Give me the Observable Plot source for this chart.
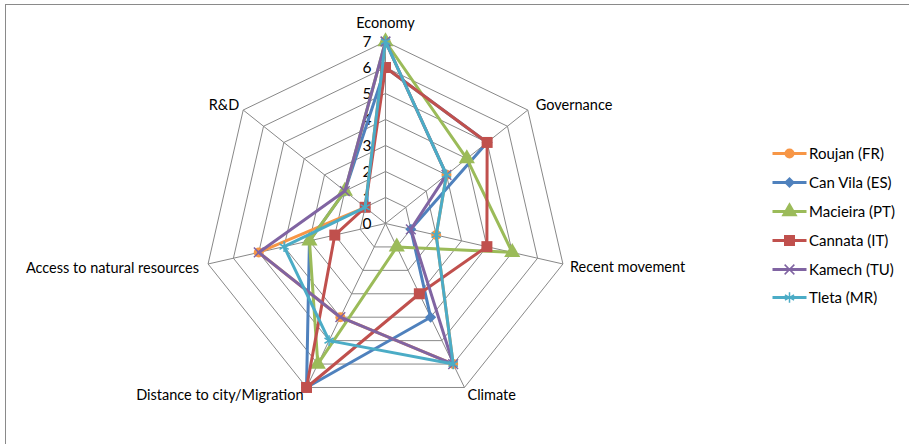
<!DOCTYPE html>
<html>
<head>
<meta charset="utf-8">
<script src="https://cdn.jsdelivr.net/npm/d3@7"></script>
<script src="https://cdn.jsdelivr.net/npm/@observablehq/plot@0.6"></script>
<style>
  body { margin: 0; background: #fff; }
  #wrap { position: relative; width: 909px; height: 444px; overflow: hidden; font-family: Lato, "Noto Sans", sans-serif; }
  #frame { position: absolute; left: 5px; top: 4px; width: 1000px; height: 1000px; border-left: 1px solid #8a8a8a; border-top: 1px solid #8a8a8a; }
  #legend { position: absolute; left: 771px; top: 139px; font-size: 15px; color: #000; }
  .row { display: flex; align-items: center; height: 28.8px; }
  .row svg { margin-right: 2px; }
</style>
</head>
<body>
<div id="wrap"><div id="frame"></div><div id="chart"></div><div id="legend"></div></div>
<script>
// ---- data ----
const axes = ["Economy", "Governance", "Recent movement", "Climate", "Distance to city/Migration", "Access to natural resources", "R&D"];
const seriesNames = ["Roujan (FR)", "Can Vila (ES)", "Macieira (PT)", "Cannata (IT)", "Kamech (TU)", "Tleta (MR)"];
const roujan   = [7, 3, 2, 6, 4, 5, 1];
const canVila  = [6, 5, 1, 4, 7, 3, 2];
const macieira = [7, 4, 5, 1, 6, 3, 2];
const cannata  = [6, 5, 4, 3, 7, 2, 1];
const kamech   = [7, 3, 1, 6, 4, 5, 2];
const tleta    = [7, 3, 2, 6, 5, 4, 1];
const tickLabels = [0, 1, 2, 3, 4, 5, 6, 7];

// ---- styles ----
const colors = ["#F79646", "#4F81BD", "#9BBB59", "#C0504D", "#8064A2", "#4BACC6"];
const symbols = ["circle", "diamond2", "triangle", "square", "times", "asterisk"];
const symbolR = [5, 5, 6, 6.2, 4.5, 5];
const labelStyle = [
  {anchor: "middle", dx: 0, dy: -18},
  {anchor: "start", dx: 8, dy: -5},
  {anchor: "start", dx: 7, dy: 3},
  {anchor: "start", dx: 3, dy: 8},
  {anchor: "end", dx: -3, dy: 8},
  {anchor: "end", dx: -9, dy: 4},
  {anchor: "end", dx: -4, dy: -5}
];

const values = [roujan, canVila, macieira, cannata, kamech, tleta];
const maxV = 7;
const n = axes.length;
const ang = i => i * 2 * Math.PI / n;
const px = (r, i) => r * Math.sin(ang(i));
const py = (r, i) => r * Math.cos(ang(i));

// grid rings
const rings = [];
for (let lv = 1; lv <= maxV; lv++) for (let i = 0; i <= n; i++) rings.push({lv, x: px(lv, i % n), y: py(lv, i % n)});
const spokes = axes.map((a, i) => ({x1: 0, y1: 0, x2: px(maxV, i), y2: py(maxV, i)}));

const pts = [];
const lines = [];
values.forEach((vals, s) => {
  vals.forEach((v, i) => pts.push({s, x: px(v, i), y: py(v, i)}));
  for (let i = 0; i <= n; i++) lines.push({s, x: px(vals[i % n], i % n), y: py(vals[i % n], i % n)});
});

// scale geometry
const W = 909, H = 444, cx = 385, cy = 223, k = 26;

const marks = [
  Plot.line(rings, {x: "x", y: "y", z: "lv", stroke: "#888", strokeWidth: 1}),
  Plot.link(spokes, {x1: "x1", y1: "y1", x2: "x2", y2: "y2", stroke: "#888", strokeWidth: 1}),
  Plot.text(tickLabels, {x: 0, y: d => d, text: d => String(d), textAnchor: "end", dx: -14, dy: 1, fontSize: 15.5, fill: "#000"})
];
values.forEach((vals, s) => {
  marks.push(Plot.line(lines.filter(d => d.s === s), {x: "x", y: "y", stroke: colors[s], strokeWidth: 3, strokeLinejoin: "round"}));
  const isStroke = symbols[s] === "times" || symbols[s] === "asterisk";
  marks.push(Plot.dot(pts.filter(d => d.s === s), {x: "x", y: "y", symbol: symbols[s], r: symbolR[s],
    fill: isStroke ? "none" : colors[s], stroke: colors[s], strokeWidth: isStroke ? 1.5 : 0}));
});
axes.forEach((a, i) => {
  const st = labelStyle[i];
  marks.push(Plot.text([a], {x: px(maxV, i), y: py(maxV, i), text: d => d, textAnchor: st.anchor, dx: st.dx, dy: st.dy, fontSize: 14.5, fill: "#000"}));
});

const chart = Plot.plot({
  width: W, height: H,
  margin: 0,
  style: {background: "transparent", fontFamily: "Lato, 'Noto Sans', sans-serif", overflow: "visible"},
  x: {domain: [-cx / k, (W - cx) / k], range: [0, W], axis: null},
  y: {domain: [-(H - cy) / k, cy / k], range: [H, 0], axis: null},
  symbol: {type: "identity"},
  marks
});
document.getElementById("chart").appendChild(chart);

// legend
const leg = document.getElementById("legend");
seriesNames.forEach((name, s) => {
  const row = document.createElement("div");
  row.className = "row";
  const isStroke = symbols[s] === "times" || symbols[s] === "asterisk";
  const sw = Plot.plot({
    width: 36, height: 14, margin: 0,
    x: {domain: [0, 1], range: [1, 35], axis: null},
    y: {domain: [0, 1], range: [14, 0], axis: null},
    style: {background: "transparent", overflow: "visible"},
    marks: [
      Plot.link([0], {x1: 0, y1: 0.5, x2: 1, y2: 0.5, stroke: colors[s], strokeWidth: 3}),
      Plot.dot([0], {x: 0.5, y: 0.5, symbol: symbols[s], r: symbolR[s],
        fill: isStroke ? "none" : colors[s], stroke: colors[s], strokeWidth: isStroke ? 1.5 : 0})
    ]
  });
  row.appendChild(sw);
  const t = document.createElement("span");
  t.textContent = name;
  row.appendChild(t);
  leg.appendChild(row);
});
</script>
</body>
</html>
